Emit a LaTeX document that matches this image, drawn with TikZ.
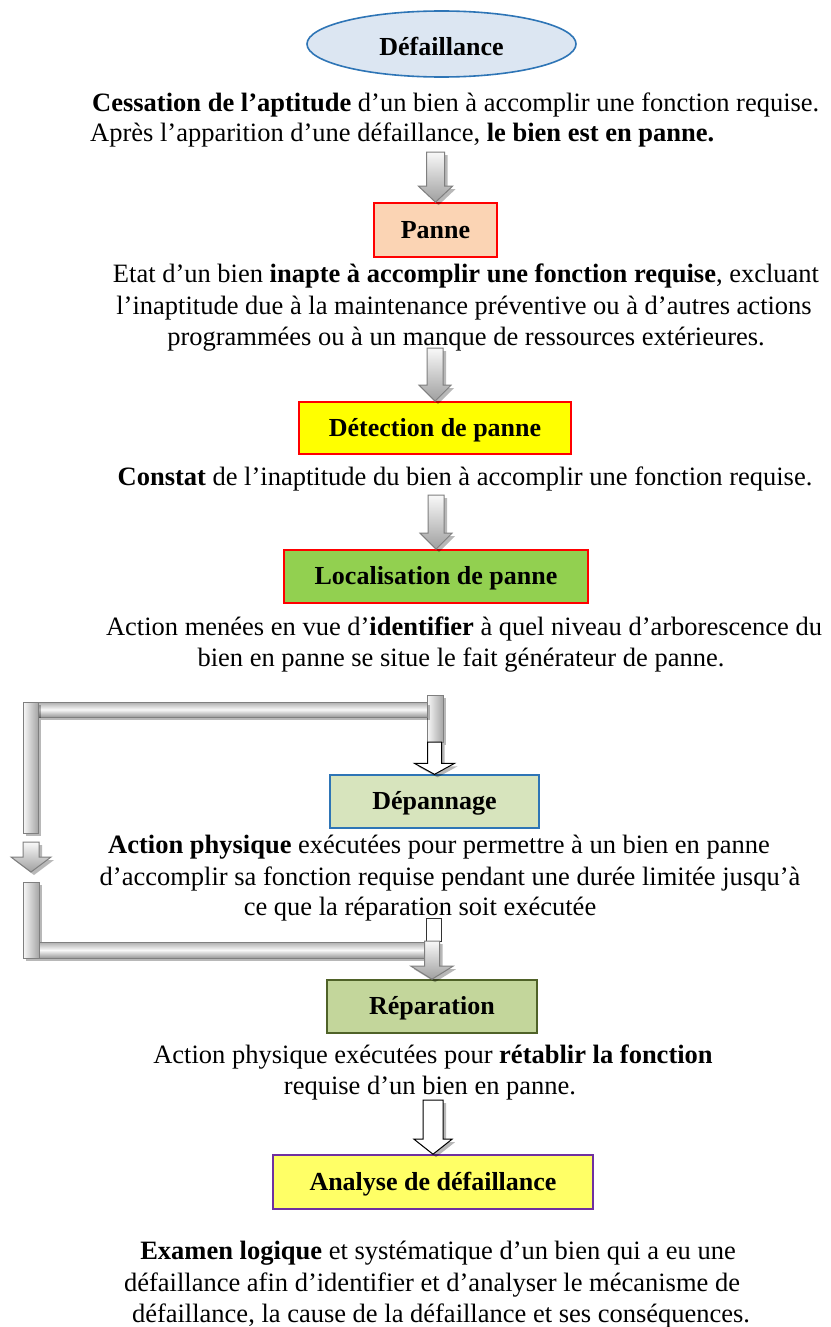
\documentclass[tikz,border=0pt]{standalone}
\usepackage{fontspec}
\setmainfont{Liberation Serif}
\usetikzlibrary{shapes.geometric,shadows,calc}

\definecolor{ellfill}{HTML}{DCE6F2}
\definecolor{ellline}{HTML}{2E75B6}
\definecolor{boxpeach}{HTML}{FBD4B4}
\definecolor{boxyellow}{HTML}{FFFF00}
\definecolor{boxlime}{HTML}{92D050}
\definecolor{boxolivelight}{HTML}{D7E4BD}
\definecolor{boxolivemid}{HTML}{C3D69B}
\definecolor{boxolivedark}{HTML}{4F6228}
\definecolor{boxpurple}{HTML}{7030A0}
\definecolor{boxpaleyellow}{HTML}{FFFF66}
\definecolor{boxred}{HTML}{FF0000}
\definecolor{pipeedge}{HTML}{7F7F7F}

% block arrow pointing down: style, start, tip, half shaft, half head, head length
\newcommand{\flowarrow}[6]{%
  \path[#1] let \p1=#2, \p2=#3 in
    (\x2-#4,\y1) -- (\x2+#4,\y1) -- (\x2+#4,\y2+#6) -- (\x2+#5,\y2+#6)
    -- (\x2,\y2) -- (\x2-#5,\y2+#6) -- (\x2-#4,\y2+#6) -- cycle;}

\tikzset{
  body/.style={font=\fontsize{26.5}{30}\selectfont, inner sep=0pt, anchor=base},
  boxbase/.style={rectangle, inner sep=0pt, text height=17pt, text depth=1pt,
    font=\fontsize{26}{30}\selectfont\bfseries, line width=1.6pt},
  softshadow/.style={drop shadow={opacity=0.28, shadow xshift=3pt, shadow yshift=-3pt, fill=black}},
  garrow/.style={draw=pipeedge, line width=1pt, top color=gray!5, bottom color=gray!75, softshadow},
  oarrow/.style={draw=black, line width=1pt, fill=white, softshadow},
  hbar/.style={draw=pipeedge, line width=1pt, top color=gray!65, bottom color=gray!80, middle color=gray!5, softshadow},
  vbar/.style={draw=pipeedge, line width=1pt, left color=gray!5, right color=gray!70, softshadow},
}

\begin{document}
\begin{tikzpicture}[x=1pt,y=1pt]
\useasboundingbox (0,0) rectangle (830,-1327);
\fill[white] (0,0) rectangle (830,-1327);

% --- Défaillance
\node[ellipse, draw=ellline, fill=ellfill, line width=1.6pt, minimum width=269pt, minimum height=66pt,
      inner sep=0pt, text height=23pt, text depth=0pt, font=\fontsize{26}{30}\selectfont\bfseries]
  (def) at (441.5,-44) {Défaillance};
\node[body, anchor=base west] (p1a) at (92,-112) {\textbf{Cessation de l’aptitude} d’un bien à accomplir une fonction requise.};
\node[body, anchor=base west] (p1b) at (90,-142) {Après l’apparition d’une défaillance, \textbf{le bien est en panne.}};

% --- Panne
\node[boxbase, draw=boxred, fill=boxpeach, minimum width=123pt, minimum height=54pt] (panne) at (435.5,-230) {Panne};
\node[body] (p2a) at (466,-282) {Etat d’un bien \textbf{inapte à accomplir une fonction requise}, excluant};
\node[body] (p2b) at (464,-314) {l’inaptitude due à la maintenance préventive ou à d’autres actions};
\node[body] (p2c) at (466,-345) {programmées ou à un manque de ressources extérieures.};

% --- Détection de panne
\node[boxbase, draw=boxred, fill=boxyellow, minimum width=272pt, minimum height=52pt] (det) at (435,-428) {Détection de panne};
\node[body] (p3) at (465,-485) {\textbf{Constat} de l’inaptitude du bien à accomplir une fonction requise.};

% --- Localisation de panne
\node[boxbase, draw=boxred, fill=boxlime, minimum width=304pt, minimum height=53pt] (loc) at (436,-576.5) {Localisation de panne};
\node[body] (p4a) at (464,-635) {Action menées en vue d’\textbf{identifier} à quel niveau d’arborescence du};
\node[body] (p4b) at (461,-666) {bien en panne se situe le fait générateur de panne.};

% --- Dépannage
\node[boxbase, draw=ellline, fill=boxolivelight, line width=1.3pt, minimum width=209pt, minimum height=53pt] (dep) at (434.5,-801.5) {Dépannage};
\node[body] (p5a) at (439,-853) {\textbf{Action physique} exécutées pour permettre à un bien en panne};
\node[body] (p5b) at (450,-885) {d’accomplir sa fonction requise pendant une durée limitée jusqu’à};
\node[body] (p5c) at (420,-915) {ce que la réparation soit exécutée};

% --- Réparation
\node[boxbase, draw=boxolivedark, fill=boxolivemid, minimum width=210pt, minimum height=53pt] (rep) at (432,-1006.5) {Réparation};
\node[body] (p6a) at (433,-1063) {Action physique exécutées pour \textbf{rétablir la fonction}};
\node[body] (p6b) at (430,-1094) {requise d’un bien en panne.};

% --- Analyse de défaillance
\node[boxbase, draw=boxpurple, fill=boxpaleyellow, minimum width=320pt, minimum height=54pt] (ana) at (433,-1182) {Analyse de défaillance};
\node[body] (p7a) at (438,-1259) {\textbf{Examen logique} et systématique d’un bien qui a eu une};
\node[body] (p7b) at (432,-1291) {défaillance afin d’identifier et d’analyser le mécanisme de};
\node[body] (p7c) at (441,-1322) {défaillance, la cause de la défaillance et ses conséquences.};

% --- arrows of the main chain
\coordinate (a1) at (434,-152);
\coordinate (a2) at (434,-348);
\coordinate (a3) at (434,-495);
\coordinate (a6) at (432,-1100);
\flowarrow{garrow}{(a1)}{(panne.north)}{9pt}{17pt}{16pt}
\flowarrow{garrow}{(a2)}{(det.north)}{8pt}{16pt}{16pt}
\flowarrow{garrow}{(a3)}{(loc.north)}{8pt}{16pt}{16pt}
\flowarrow{oarrow}{(a6)}{(ana.north)}{10pt}{19pt}{15pt}

% --- bypass pipe from localisation towards dépannage and réparation
\path[vbar] (427,-695) rectangle (443,-742);
\path[hbar] (38,-702) rectangle (427,-717);
\path[vbar] (23,-702) rectangle (38,-833);
\coordinate (a4) at (435,-742);
\flowarrow{oarrow}{(a4)}{(dep.north)}{7pt}{20pt}{11pt}

\coordinate (a5s) at (31,-842);
\coordinate (a5t) at (31,-872);
\flowarrow{garrow}{(a5s)}{(a5t)}{8pt}{20pt}{15pt}

\path[vbar] (23,-882) rectangle (39,-958);
\path[hbar] (39,-942) rectangle (427,-958);
\draw[black!80, line width=0.8pt, fill=white] (426,-918) rectangle (441,-941);
\coordinate (a7) at (433.5,-941);
\flowarrow{garrow}{(a7)}{(rep.north)}{7.5pt}{21pt}{13pt}
\end{tikzpicture}
\end{document}
